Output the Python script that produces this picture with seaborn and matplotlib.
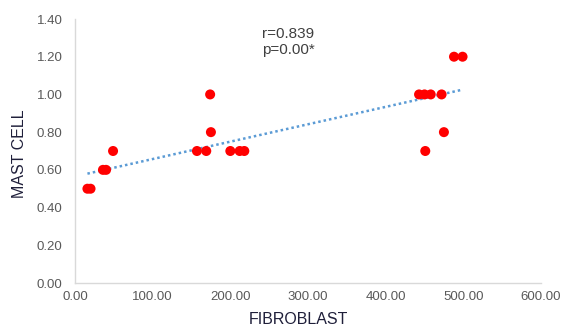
import matplotlib
matplotlib.use("Agg")
import matplotlib.pyplot as plt
import seaborn as sns
import numpy as np
import pandas as pd

fibroblast = [16, 20, 36, 40, 49, 157, 169, 174, 175, 200, 212, 218,
              443, 450, 458, 472, 488, 499, 475, 451]
mast_cell = [0.50, 0.50, 0.60, 0.60, 0.70, 0.70, 0.70, 1.00, 0.80, 0.70, 0.70, 0.70,
             1.00, 1.00, 1.00, 1.00, 1.20, 1.20, 0.80, 0.70]
x_ticks = [0, 100, 200, 300, 400, 500, 600]
y_ticks = [0.0, 0.2, 0.4, 0.6, 0.8, 1.0, 1.2, 1.4]
annotation_r = "r=0.839"
annotation_p = "p=0.00*"

df = pd.DataFrame({"FIBROBLAST": fibroblast, "MAST CELL": mast_cell})

sns.set_style("white")
plt.rcParams["font.family"] = ["Liberation Sans", "DejaVu Sans"]

fig = plt.figure(figsize=(5.61, 3.32), dpi=100)
ax = fig.add_axes([75/561, 49/332, 466/561, 264/332])

sns.regplot(data=df, x="FIBROBLAST", y="MAST CELL", ax=ax, ci=None, truncate=True,
            scatter_kws=dict(color="#FF0000", s=52, edgecolor="none", alpha=1, zorder=3),
            line_kws=dict(color="#5B9BD5", linestyle=(0, (1, 1.2)), linewidth=1.8, zorder=2))

ax.set_xlim(0, 600)
ax.set_ylim(0, 1.4)
ax.set_xticks(x_ticks)
ax.set_yticks(y_ticks)
ax.set_xticklabels([f"{v:.2f}" for v in x_ticks], color="#595959", fontsize=9.5)
ax.set_yticklabels([f"{v:.2f}" for v in y_ticks], color="#595959", fontsize=9.5)
ax.tick_params(axis="x", length=0, pad=6)
ax.tick_params(axis="y", length=0, pad=9)

for s in ["top", "right"]:
    ax.spines[s].set_visible(False)
for s in ["left", "bottom"]:
    ax.spines[s].set_color("#D9D9D9")
    ax.spines[s].set_linewidth(1)

ax.set_xlabel("FIBROBLAST", fontsize=11.5, color="#1F1F3A", va="center")
ax.set_ylabel("MAST CELL", fontsize=11.5, color="#1F1F3A", va="center")
ax.xaxis.set_label_coords(0.4785, -0.138)
ax.yaxis.set_label_coords(-0.120, 0.4905)

ax.text(241, 1.2975, annotation_r, fontsize=11, color="#404040", va="baseline", ha="left")
ax.text(241, 1.2126, annotation_p, fontsize=11, color="#404040", va="baseline", ha="left")

fig.savefig("out.png", dpi=100)
